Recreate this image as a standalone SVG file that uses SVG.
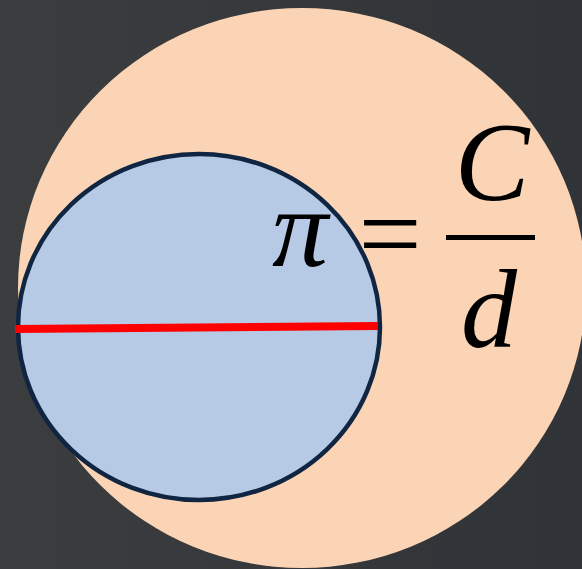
<svg xmlns="http://www.w3.org/2000/svg" width="582" height="569" viewBox="0 0 582 569">
<defs>
<linearGradient id="bg" x1="0" y1="0" x2="1" y2="0">
<stop offset="0" stop-color="#3b3d3f"/>
<stop offset="1" stop-color="#303337"/>
</linearGradient>
<style>
.math{font-family:'Liberation Serif','Times New Roman',serif;font-size:112px;fill:#000;text-anchor:middle}
.it{font-style:italic}
</style>
</defs>
<rect x="0" y="0" width="582" height="569" fill="url(#bg)"/>
<g id="outer-circle">
<ellipse cx="302" cy="288" rx="284" ry="280" fill="#fad4b4"/>
</g>
<g id="inner-circle">
<ellipse cx="199" cy="327" rx="181" ry="173" fill="#b6cae5" stroke="#0f2541" stroke-width="4.5"/>
</g>
<g id="diameter">
<line x1="15" y1="329" x2="378" y2="326" stroke="#ff0000" stroke-width="8"/>
</g>
<g id="formula">
<text class="math it" x="300" y="266">π</text>
<text class="math" x="390" y="271">=</text>
<line x1="446" y1="237.5" x2="535" y2="237.5" stroke="#000" stroke-width="5"/>
<text class="math it" x="492" y="200">C</text>
<text class="math it" x="489" y="347">d</text>
</g>
</svg>
